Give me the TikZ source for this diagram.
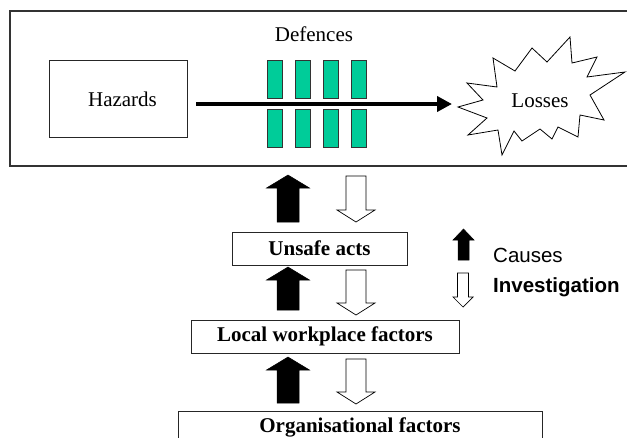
\documentclass[tikz,border=0pt]{standalone}
\usepackage{fontspec}
\setmainfont{Liberation Serif}
\newfontfamily\sansf{Liberation Sans}
\usetikzlibrary{arrows.meta,calc}
\definecolor{defgreen}{RGB}{0,204,153}
\newcommand{\vblock}[8]{% style, cx, tip y, tail y, half shaft, half head, head len (signed)
  \draw[#1] (#2-#5,#4) -- (#2-#5,#3+#7) -- (#2-#6,#3+#7) -- (#2,#3) -- (#2+#6,#3+#7) -- (#2+#5,#3+#7) -- (#2+#5,#4) -- cycle;}
\begin{document}
\begin{tikzpicture}[x=1pt,y=-1pt,
  frame/.style={draw=black!80, line width=1.1pt},
  lbox/.style={draw=black!85, line width=0.9pt, inner sep=0pt},
  barbox/.style={draw=black!80, fill=defgreen, line width=0.8pt},
  lbl/.style={font=\fontsize{21}{24}\selectfont},
  blbl/.style={font=\fontsize{21}{24}\selectfont\bfseries},
  slbl/.style={font=\fontsize{20.5}{24}\selectfont\sansf, inner sep=0pt},
  causearrow/.style={fill=black, draw=black, line width=0.5pt, line join=miter},
  invarrow/.style={fill=white, draw=black, line width=0.7pt, line join=miter},
]
\useasboundingbox (0,0) rectangle (627,437);
% outer frame
\draw[frame] (10,11) rectangle (640,166);
% hazards
\node[lbox, minimum width=138pt, minimum height=77pt] (hazbox) at (118,98.5) {};
\node[lbl, inner sep=0pt] (haz) at (122.5,99) {Hazards};
% defences
\node[lbl, inner sep=0pt] (def) at (314,34) {Defences};
\foreach \x in {267,295,323,351}{
  \draw[barbox] (\x,60) rectangle (\x+15,98);
  \draw[barbox] (\x,109) rectangle (\x+15,147);
}
% losses star
\draw[black, line width=0.8pt, fill=white, line join=miter]
  (458,107) -- (483,100) -- (467,83) -- (497,87) -- (493,58) -- (515,71) -- (532,48) -- (547,62)
  -- (570,37) -- (572,63) -- (597,57) -- (587,77) -- (625,72) -- (590,95) -- (604,120) -- (580,115)
  -- (578,137) -- (558,127) -- (552,139) -- (540,129) -- (522,141) -- (514,131) -- (502,155) -- (498,130)
  -- (468,135) -- (487,118) -- cycle;
\node[lbl, inner sep=0pt] (loss) at (540,101) {Losses};
% main arrow
\coordinate (hs) at (196,104);
\coordinate (he) at (452,104);
\draw[line width=4pt, -{Triangle[length=15pt,width=15pt]}] (hs) -- (he);
% level boxes
\node[lbox, blbl, minimum width=175pt, minimum height=33pt] (unsafe) at (319.5,248.5) {Unsafe acts};
\node[lbox, blbl, minimum width=268pt, minimum height=33pt] (local) at (325,336.5) {Local workplace factors};
\node[lbox, blbl, anchor=north, minimum width=364pt, inner ysep=6pt, text depth=40pt] (org) at (360,411) {Organisational factors};
% cause / investigation arrows
\vblock{causearrow}{288}{175}{222}{11}{21.5}{13}{}
\vblock{invarrow}{356}{222}{176}{10}{19}{-12}{}
\vblock{causearrow}{288}{267}{310}{11}{21.5}{13}{}
\vblock{invarrow}{356}{315}{270}{10}{19}{-12}{}
\vblock{causearrow}{288}{357}{403}{11}{21.5}{13}{}
\vblock{invarrow}{356}{404}{359}{10}{19}{-12}{}
% legend
\vblock{causearrow}{463.5}{229}{260}{5.5}{10.5}{11}{}
\vblock{invarrow}{463}{307}{273}{5.5}{10}{-10}{}
\node[slbl, anchor=base west] (causes) at (493,262) {Causes};
\node[slbl, anchor=base west, font=\fontsize{20.5}{24}\selectfont\sansf\bfseries] (invest) at (493,292) {Investigation};
\end{tikzpicture}
\end{document}
